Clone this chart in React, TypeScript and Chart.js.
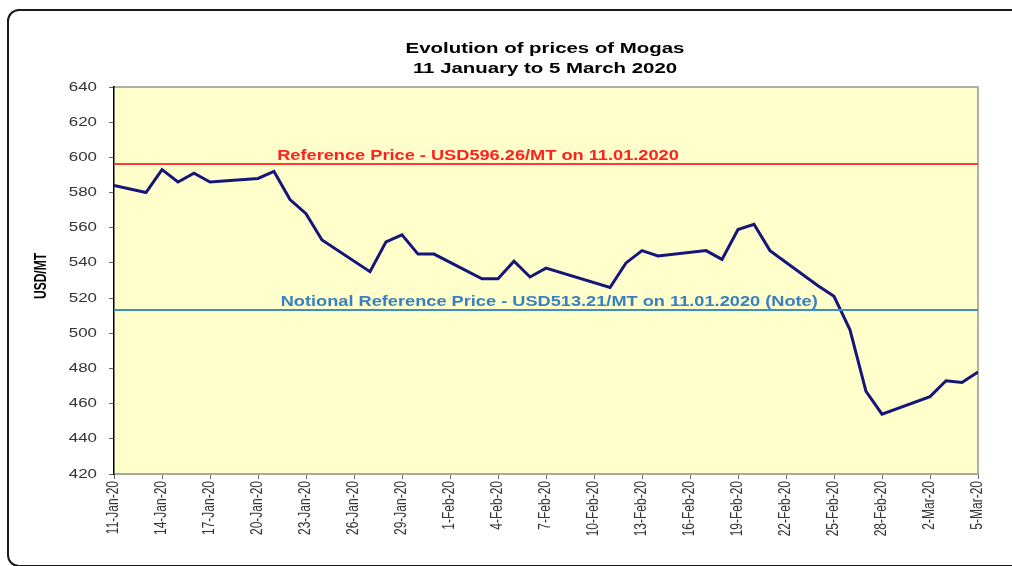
import React, { useEffect, useRef } from "react";
import { Chart, registerables } from "chart.js";

Chart.register(...registerables);

const titleLines = ["Evolution of prices of Mogas", "11 January to 5 March 2020"];
const yAxisTitle = "USD/MT";

const tradingDates = [
  "2020-01-11", "2020-01-13", "2020-01-14", "2020-01-15", "2020-01-16", "2020-01-17",
  "2020-01-20", "2020-01-21", "2020-01-22", "2020-01-23", "2020-01-24",
  "2020-01-27", "2020-01-28", "2020-01-29", "2020-01-30", "2020-01-31",
  "2020-02-03", "2020-02-04", "2020-02-05", "2020-02-06", "2020-02-07",
  "2020-02-11", "2020-02-12", "2020-02-13", "2020-02-14",
  "2020-02-17", "2020-02-18", "2020-02-19", "2020-02-20", "2020-02-21",
  "2020-02-24", "2020-02-25", "2020-02-26", "2020-02-27", "2020-02-28",
  "2020-03-02", "2020-03-03", "2020-03-04", "2020-03-05",
];

const mogasPrices = [
  584, 580, 593, 586, 591, 586,
  588, 592, 576, 568, 553,
  535, 552, 556, 545, 545,
  531, 531, 541, 532, 537,
  526, 540, 547, 544,
  547, 542, 559, 562, 547,
  527, 521, 502, 467, 454,
  464, 473, 472, 478,
];

const xTickLabels = [
  "11-Jan-20", "14-Jan-20", "17-Jan-20", "20-Jan-20", "23-Jan-20", "26-Jan-20",
  "29-Jan-20", "1-Feb-20", "4-Feb-20", "7-Feb-20", "10-Feb-20", "13-Feb-20",
  "16-Feb-20", "19-Feb-20", "22-Feb-20", "25-Feb-20", "28-Feb-20", "2-Mar-20", "5-Mar-20",
];

const startDate = "2020-01-11";
const endDate = "2020-03-05";

const referencePrice = 596.26;
const notionalReferencePrice = 513.21;
const referenceLabel = "Reference Price - USD596.26/MT on 11.01.2020";
const notionalLabel = "Notional Reference Price - USD513.21/MT on 11.01.2020 (Note)";

const dayOffset = (s: string) => {
  const [y, m, d] = s.split("-").map(Number);
  const [y0, m0, d0] = startDate.split("-").map(Number);
  return Math.round((Date.UTC(y, m - 1, d) - Date.UTC(y0, m0 - 1, d0)) / 86400000);
};

const lastDay = dayOffset(endDate);

const FONT = "'Liberation Sans', Arial, sans-serif";
const STRETCH = 1.3;

const stretchedText = (ctx: any, text: string, x: number, y: number, sx: number) => {
  ctx.save();
  ctx.translate(x, y);
  ctx.scale(sx, 1);
  ctx.fillText(text, 0, 0);
  ctx.restore();
};

const decorPlugin = {
  id: "decor",
  beforeDraw(chart: any) {
    const { ctx, chartArea } = chart;
    ctx.save();
    ctx.fillStyle = "#FFFFCC";
    ctx.fillRect(chartArea.left, chartArea.top, chartArea.right - chartArea.left, chartArea.bottom - chartArea.top);
    ctx.strokeStyle = "#B0B0A8";
    ctx.lineWidth = 2;
    ctx.beginPath();
    ctx.moveTo(chartArea.left, chartArea.top);
    ctx.lineTo(chartArea.right, chartArea.top);
    ctx.lineTo(chartArea.right, chartArea.bottom);
    ctx.stroke();
    ctx.restore();
  },
  afterDraw(chart: any) {
    const { ctx, chartArea, scales } = chart;
    const cx = (chartArea.left + chartArea.right) / 2;
    ctx.save();
    ctx.fillStyle = "#000";
    ctx.font = `bold 15px ${FONT}`;
    ctx.textAlign = "center";
    ctx.textBaseline = "middle";
    stretchedText(ctx, titleLines[0], cx - 1, 49, 1.36);
    stretchedText(ctx, titleLines[1], cx - 1, 69, 1.36);

    // y axis title
    ctx.save();
    ctx.translate(42, 276);
    ctx.scale(STRETCH, 1);
    ctx.rotate(-Math.PI / 2);
    ctx.font = `bold 12px ${FONT}`;
    ctx.fillText(yAxisTitle, 0, 0);
    ctx.restore();

    // y tick labels
    ctx.fillStyle = "#333";
    ctx.font = `13px ${FONT}`;
    ctx.textAlign = "right";
    ctx.textBaseline = "middle";
    scales.y.ticks.forEach((t: any) => {
      stretchedText(ctx, String(t.value), 97, scales.y.getPixelForValue(t.value), STRETCH);
    });

    // x tick labels (rotated)
    ctx.font = `12px ${FONT}`;
    ctx.textAlign = "right";
    ctx.textBaseline = "middle";
    scales.x.ticks.forEach((t: any) => {
      const label = xTickLabels[Math.round(Number(t.value) / 3)] ?? "";
      ctx.save();
      ctx.translate(scales.x.getPixelForValue(t.value), 481);
      ctx.scale(STRETCH, 1);
      ctx.rotate(-Math.PI / 2);
      ctx.fillText(label, 0, 0);
      ctx.restore();
    });

    // reference line labels
    ctx.font = `bold 14px ${FONT}`;
    ctx.textAlign = "center";
    ctx.textBaseline = "alphabetic";
    ctx.fillStyle = "#FF2020";
    stretchedText(ctx, referenceLabel, scales.x.getPixelForValue(22.75), scales.y.getPixelForValue(referencePrice) - 4, STRETCH);
    ctx.fillStyle = "#3A80C0";
    stretchedText(ctx, notionalLabel, scales.x.getPixelForValue(27.2), scales.y.getPixelForValue(notionalReferencePrice) - 4, STRETCH);
    ctx.restore();
  },
};

export default function App() {
  const ref = useRef<HTMLCanvasElement | null>(null);
  useEffect(() => {
    if (!ref.current) return;
    const chart = new Chart(ref.current, {
      type: "line",
      data: {
        datasets: [
          {
            label: "Reference",
            data: [
              { x: 0, y: referencePrice },
              { x: lastDay, y: referencePrice },
            ],
            borderColor: "#FF3A3A",
            borderWidth: 2,
            pointRadius: 0,
          },
          {
            label: "Notional",
            data: [
              { x: 0, y: notionalReferencePrice },
              { x: lastDay, y: notionalReferencePrice },
            ],
            borderColor: "#3C8FCC",
            borderWidth: 2,
            pointRadius: 0,
          },
          {
            label: "Mogas",
            data: tradingDates.map((d, i) => ({ x: dayOffset(d), y: mogasPrices[i] })),
            borderColor: "#16167A",
            borderWidth: 3,
            pointRadius: 0,
            tension: 0,
          },
        ],
      },
      options: {
        animation: false,
        responsive: false,
        maintainAspectRatio: false,
        layout: { padding: { left: 0, right: 34, top: 87, bottom: 0 } },
        plugins: { legend: { display: false }, tooltip: { enabled: false }, title: { display: false } },
        scales: {
          x: {
            type: "linear",
            min: 0,
            max: lastDay,
            afterFit: (s: any) => {
              s.height = 92;
            },
            ticks: {
              stepSize: 3,
              autoSkip: false,
              display: false,
            },
            grid: { drawOnChartArea: false, drawTicks: true, tickLength: 5, color: "#666" },
            border: { color: "#A8A8A0", width: 2 },
          },
          y: {
            min: 420,
            max: 640,
            afterFit: (s: any) => {
              s.width = 114;
            },
            ticks: {
              stepSize: 20,
              display: false,
            },
            grid: { drawOnChartArea: false, drawTicks: true, tickLength: 5, color: "#666" },
            border: { color: "#000", width: 1.5 },
          },
        },
      },
      plugins: [decorPlugin],
    } as any);
    return () => chart.destroy();
  }, []);

  return (
    <div style={{ position: "absolute", left: 0, top: 0, width: 1012, height: 566, overflow: "hidden", background: "#fff" }}>
      <div
        style={{
          position: "absolute",
          left: 7,
          top: 9,
          width: 1100,
          height: 554,
          border: "2px solid #1a1a1a",
          borderRadius: 12,
        }}
      />
      <canvas ref={ref} width={1012} height={566} style={{ position: "absolute", left: 0, top: 0 }} />
    </div>
  );
}
